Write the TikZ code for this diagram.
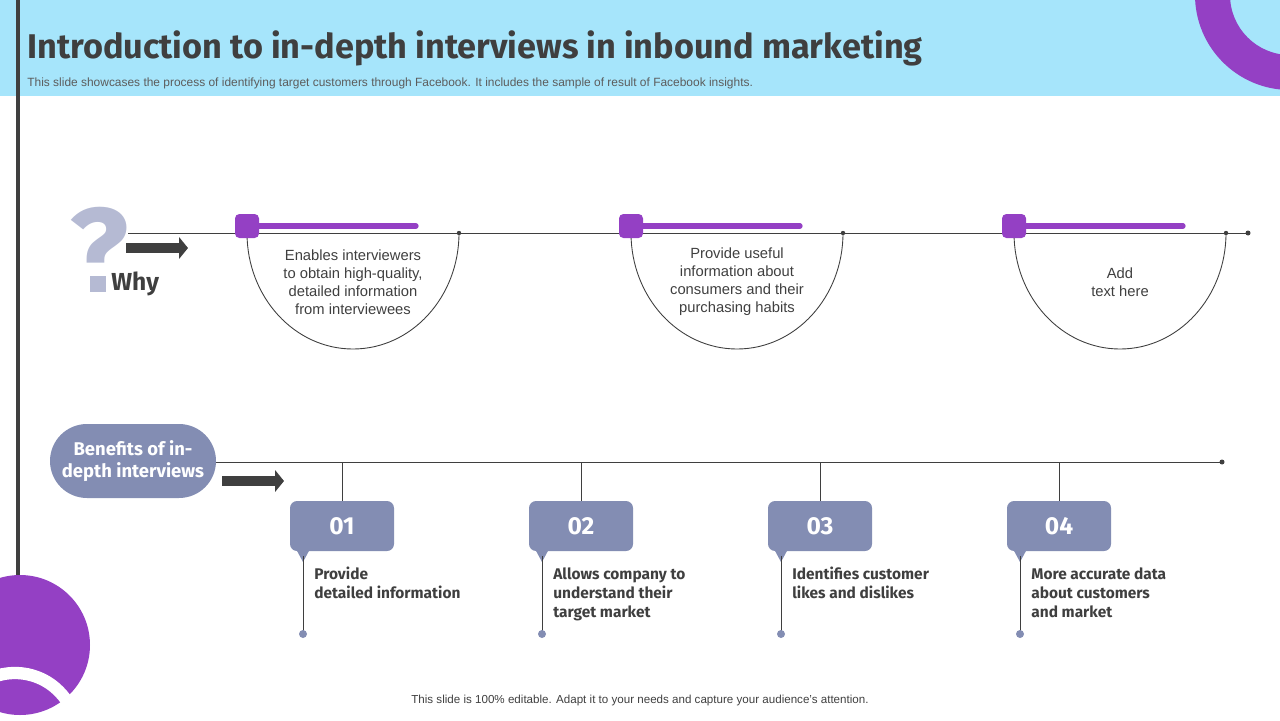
\documentclass[tikz,border=0pt]{standalone}
\usepackage{fontspec}
\setmainfont{Liberation Sans}
\newfontfamily\headfont{Fira Sans}
\usetikzlibrary{arrows.meta,positioning}
\definecolor{skyband}{HTML}{A6E5FB}
\definecolor{violet}{HTML}{9440C4}
\definecolor{slate}{HTML}{838DB3}
\definecolor{qmark}{HTML}{B5BAD3}
\definecolor{ink}{HTML}{3F3F3F}
\tikzset{
  whybox/.style={align=center,font=\fontsize{8.4}{10.2}\selectfont,text=ink},
  numbox/.style={fill=slate,rounded corners=4pt,minimum width=104*0.02cm,minimum height=50*0.02cm,
    text=white,font=\headfont\bfseries\fontsize{14}{14}\selectfont},
  benefit/.style={anchor=north west,align=left,inner sep=0,text=ink,
    font=\headfont\bfseries\fontsize{8.8}{10.8}\selectfont},
  fatarrow/.style={ink,line width=5.5pt,-{Triangle[length=5pt,width=12pt]}},
}
\begin{document}
\begin{tikzpicture}[x=0.02cm,y=-0.02cm]
    \useasboundingbox (0,0) rectangle (1280,720);
    % header band and corner pieces
    \fill[skyband] (0,0) rectangle (1280,96);
    \begin{scope}
      \clip (0,0) rectangle (1280,96);
      \fill[violet,even odd rule] (1290,-5) circle (95) (1290,-5) circle (60);
    \end{scope}
    \begin{scope}
      \clip (0,0) rectangle (1280,720);
      \fill[violet] (20,645) circle (70);
      \draw[white,line width=7pt] (15,735) circle (62);
    \end{scope}
    \draw[ink,line width=2.2pt] (18,0) -- (18,575);
    \node(title) [anchor=west,inner sep=0,text=ink,font=\headfont\bfseries\fontsize{19.5}{20}\selectfont] at (27,48)
      {Introduction to in-depth interviews in inbound marketing};
    \node(sub) [anchor=west,inner sep=0,text=ink!85,font=\fontsize{6.8}{7}\selectfont] at (27,83)
      {This slide showcases the process of identifying target customers through Facebook. It includes the sample of result of Facebook insights.};
    \node(foot) [text=ink,font=\fontsize{6.6}{7}\selectfont] at (640,700)
      {This slide is 100\% editable.  Adapt it to your needs and capture your audience's attention.};

    % why row
    \node(qm) [text=qmark,inner sep=0,font=\headfont\bfseries\fontsize{70}{70}\selectfont] at (99,252) {?};
    \fill[white] (68,268) rectangle (130,305);
    \fill[qmark] (90,276) rectangle (106,292);
    \node(why) [anchor=west,inner sep=0,text=ink,font=\headfont\bfseries\fontsize{14}{14}\selectfont] at (111,284) {Why};
    \coordinate(wa) at (126,248);
    \coordinate(wb) at (188,248);
    \draw[fatarrow] (wa) -- (wb);
    \coordinate(wl) at (128,233);
    \coordinate(wr) at (1248,233);
    \draw[ink,line width=0.5pt] (wl) -- (wr);
    \fill[ink] (wr) circle (2.5);
    \foreach \cx/\txt [count=\i] in {353/{Enables interviewers\\to obtain high-quality,\\detailed information\\from interviewees},
        737/{Provide useful\\information about\\consumers and their\\purchasing habits},
        1120/{Add\\text here}}{
      \draw[ink,line width=0.5pt] (\cx-106,233) arc (180:360:106 and -116);
      \fill[ink] (\cx+106,233) circle (2.2);
      \draw[violet,line width=3pt,line cap=round] (\cx-106,226) -- (\cx+63,226);
      \fill[violet,rounded corners=2.5pt] (\cx-118,214) rectangle (\cx-94,238);
      \node(why\i) [whybox] at (\cx,282) {\txt};
    }

    % benefits row
    \node(ben) [fill=slate,rounded corners=37*0.02cm,minimum width=166*0.02cm,minimum height=74*0.02cm,
      align=center,text=white,font=\headfont\bfseries\fontsize{10.5}{13}\selectfont] at (133,461)
      {Benefits of in-\\depth interviews};
    \coordinate(ba) at (222,481);
    \coordinate(bb) at (284,481);
    \draw[fatarrow] (ba) -- (bb);
    \coordinate(bl) at (216,462);
    \coordinate(br) at (1222,462);
    \draw[ink,line width=0.5pt] (bl) -- (br);
    \fill[ink] (br) circle (2.5);
    \foreach \cx/\txt [count=\i] in {342/{Provide\\detailed information},
        581/{Allows company to\\understand their\\target market},
        820/{Identifies customer\\likes and dislikes},
        1059/{More accurate data\\about customers\\and market}}{
      \node(num\i) [numbox] at (\cx,526) {0\i};
      \draw[ink,line width=0.5pt] (\cx,462) -- (num\i.north);
      \fill[slate] (\cx-46,549) -- (\cx-32,549) -- (\cx-39,562) -- cycle;
      \draw[ink,line width=0.5pt] (\cx-39,556) -- (\cx-39,634);
      \fill[slate] (\cx-39,634) circle (4);
      \node(ben\i) [benefit] at (\cx-28,567) {\txt};
    }
\end{tikzpicture}
\end{document}
